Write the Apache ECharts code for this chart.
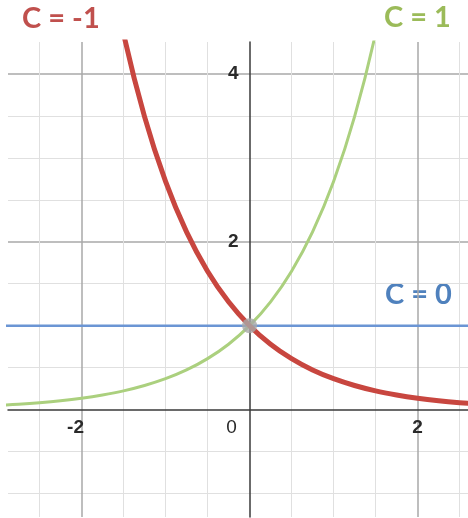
<!DOCTYPE html>
<html>
<head>
<meta charset="utf-8">
<script src="https://cdn.jsdelivr.net/npm/echarts@6/dist/echarts.min.js"></script>
<style>
  html, body { margin: 0; padding: 0; background: #fff; }
  #chart { width: 468px; height: 518px; }
</style>
</head>
<body>
<div id="chart"></div>
<script>
// Sample positions along x
const xValues = [-3, -2.75, -2.5, -2.25, -2, -1.75, -1.5, -1.25, -1, -0.75, -0.5, -0.25,
                 0, 0.25, 0.5, 0.75, 1, 1.25, 1.5, 1.75, 2, 2.25, 2.5, 2.75];
// C = 1 curve
const growth = [0.05, 0.064, 0.082, 0.105, 0.135, 0.174, 0.223, 0.287, 0.368, 0.472, 0.607, 0.779,
                1, 1.284, 1.649, 2.117, 2.718, 3.49, 4.482, 5.755, 7.389, 9.49, 12.18, 15.64];
// C = -1 curve
const decay = [20.09, 15.64, 12.18, 9.49, 7.389, 5.755, 4.482, 3.49, 2.718, 2.117, 1.649, 1.284,
               1, 0.779, 0.607, 0.472, 0.368, 0.287, 0.223, 0.174, 0.135, 0.105, 0.082, 0.064];
// C = 0 line
const flat = [1, 1, 1, 1, 1, 1, 1, 1, 1, 1, 1, 1, 1, 1, 1, 1, 1, 1, 1, 1, 1, 1, 1, 1];
// Shared crossing point
const crossing = [[0, 1]];

// Grid lines and tick labels
const minorX = [-2.5, -1.5, -1, -0.5, 0.5, 1, 1.5, 2.5];
const majorX = [-2, 2];
const xLabels = [-2, 0, 2];
const minorY = [-1, -0.5, 0.5, 1, 1.5, 2.5, 3, 3.5];
const majorY = [2, 4];
const yLabels = [2, 4];

const xRange = [-2.875, 2.6];
const yRange = [-1.28, 4.38];

const pairs = (ys) => xValues.map((x, i) => [x, ys[i]]);

const W = 468, H = 518;
const gridBox = { left: 8, right: 0, top: 42, bottom: 1 };
const gridW = W - gridBox.left - gridBox.right;
const gridH = H - gridBox.top - gridBox.bottom;
// Shift the labelled axes from the grid edge to the zero of the other axis
const yAxisShift = -gridW * (0 - xRange[0]) / (xRange[1] - xRange[0]);
const xAxisShift = -gridH * (0 - yRange[0]) / (yRange[1] - yRange[0]);

const chart = echarts.init(document.getElementById('chart'), null, { renderer: 'canvas' });

const labelFont = {
  fontFamily: 'Liberation Sans, Arial, sans-serif', fontSize: 19, fontWeight: 'bold', color: '#2a2a2a'
};
const noteFont = 'bold 29px Lato, "Open Sans", sans-serif';

chart.setOption({
  animation: false,
  backgroundColor: '#fff',
  grid: { ...gridBox, containLabel: false, outerBoundsMode: 'none' },
  xAxis: [
    {
      type: 'value', min: xRange[0], max: xRange[1], position: 'bottom',
      axisLine: { show: false, onZero: false },
      axisTick: { show: false, customValues: minorX },
      axisLabel: { show: false },
      splitLine: { show: true, lineStyle: { color: '#e0e0e0', width: 1 } }
    },
    {
      type: 'value', min: xRange[0], max: xRange[1], position: 'bottom', offset: xAxisShift,
      axisLine: { show: true, onZero: false, lineStyle: { color: '#3a3a3a', width: 1.5 } },
      axisTick: { show: false, customValues: majorX },
      axisLabel: {
        show: true, customValues: xLabels, margin: 9,
        ...labelFont,
        formatter: (v) => v === 0 ? '{z|0}' : (v < 0 ? '{n|' + v + '}' : String(v)),
        rich: {
          z: { ...labelFont, fontWeight: 'normal', padding: [0, 36, 0, 0] },
          n: { ...labelFont, padding: [0, 12, 0, 0] }
        }
      },
      splitLine: { show: true, lineStyle: { color: '#a8a8a8', width: 1.5 } }
    }
  ],
  yAxis: [
    {
      type: 'value', min: yRange[0], max: yRange[1], position: 'left',
      axisLine: { show: false, onZero: false },
      axisTick: { show: false, customValues: minorY },
      axisLabel: { show: false },
      splitLine: { show: true, lineStyle: { color: '#e0e0e0', width: 1 } }
    },
    {
      type: 'value', min: yRange[0], max: yRange[1], position: 'left', offset: yAxisShift,
      axisLine: { show: true, onZero: false, lineStyle: { color: '#3a3a3a', width: 1.5 } },
      axisTick: { show: false, customValues: majorY },
      axisLabel: { show: true, customValues: yLabels, margin: 11, ...labelFont },
      splitLine: { show: true, lineStyle: { color: '#a8a8a8', width: 1.5 } }
    }
  ],
  series: [
    {
      name: 'C = 0', type: 'line', xAxisIndex: 1, yAxisIndex: 1,
      data: pairs(flat), showSymbol: false, clip: true,
      lineStyle: { color: '#6b95d4', width: 2.5 }, z: 2
    },
    {
      name: 'C = 1', type: 'line', xAxisIndex: 1, yAxisIndex: 1,
      data: pairs(growth), showSymbol: false, smooth: 0.4, clip: true,
      lineStyle: { color: '#abd07e', width: 3 }, z: 3
    },
    {
      name: 'C = -1', type: 'line', xAxisIndex: 1, yAxisIndex: 1,
      data: pairs(decay), showSymbol: false, smooth: 0.4, clip: true,
      lineStyle: { color: '#c8463f', width: 5 }, z: 4
    },
    {
      name: 'crossing', type: 'scatter', xAxisIndex: 1, yAxisIndex: 1,
      data: crossing, symbolSize: 15,
      itemStyle: { color: '#a9a9a9' }, z: 5
    }
  ],
  graphic: [
    { type: 'text', left: 22, top: 4, style: { text: 'C = -1', fill: '#c0504d', font: noteFont } },
    { type: 'text', left: 384, top: 3, style: { text: 'C = 1', fill: '#9bbb59', font: noteFont } },
    { type: 'text', left: 385, top: 280, style: { text: 'C = 0', fill: '#4f81bd', font: noteFont } }
  ]
});
</script>
</body>
</html>
